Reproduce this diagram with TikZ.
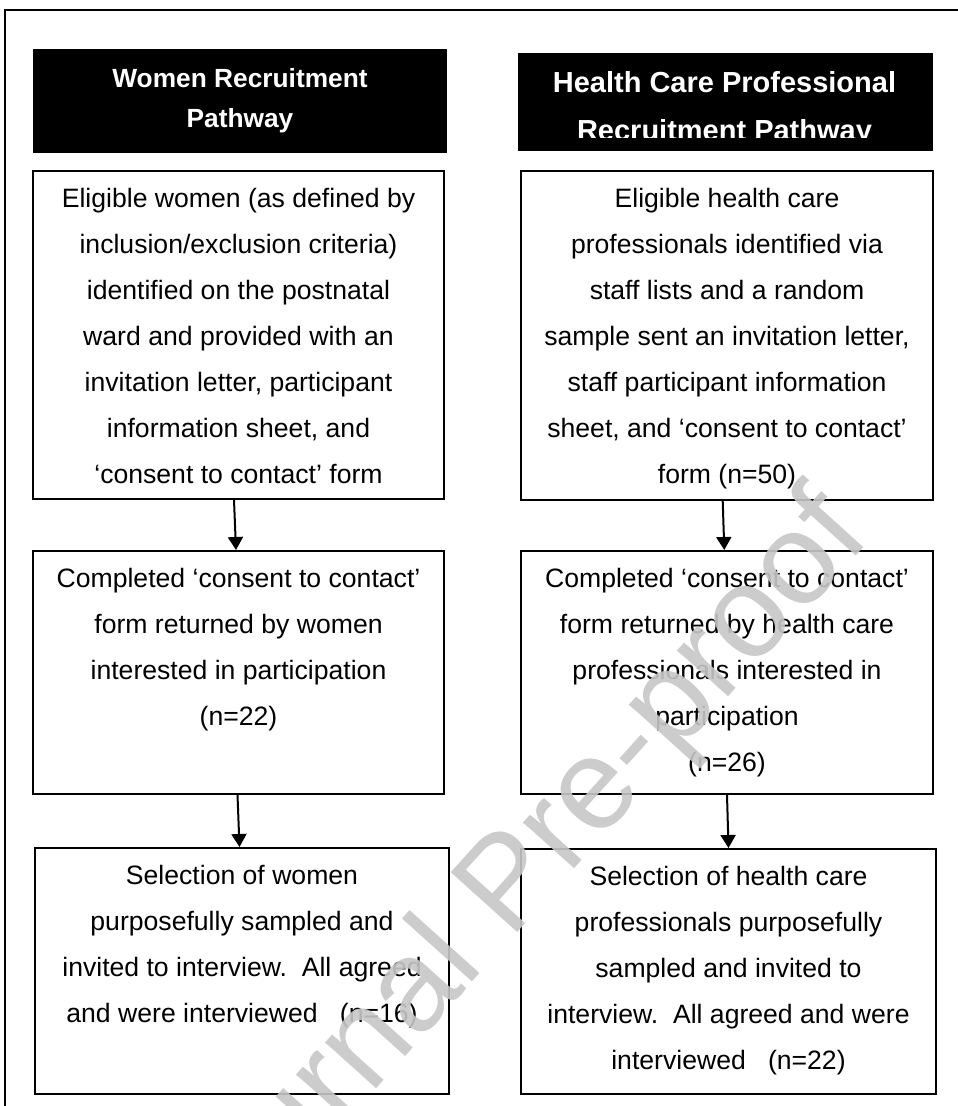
\documentclass[tikz,border=0pt]{standalone}
\usepackage{fontspec}
\setmainfont{Liberation Sans}
\usetikzlibrary{arrows.meta}
\begin{document}
\begin{tikzpicture}[x=0.5pt,y=-0.5pt,
  head/.style={fill=black,text=white,align=center,inner sep=0pt},
  stage/.style 2 args={draw,line width=1pt,inner sep=0pt,anchor=north,
    font=\fontsize{13.3pt}{23pt}\selectfont,
    execute at begin node={\begin{minipage}[c][#2][t]{#1}\centering\rule{0pt}{18.25pt}},
    execute at end node={\end{minipage}}},
  flow/.style={-{Triangle[width=7.5pt,length=6.5pt]},line width=1pt},
  stamp/.style={text=black!22,text opacity=0.9,font=\fontsize{65pt}{65pt}\selectfont,rotate=48}]
\useasboundingbox (0,0) rectangle (957,1106);
\draw[line width=1.25pt] (5,1106) -- (5,10) -- (960,10);
\node[head,minimum width=207pt,minimum height=52pt,font=\bfseries\fontsize{13.15pt}{20pt}\selectfont] (W0) at (240,101) {Women Recruitment\\Pathway};
\node[head,minimum width=207.5pt,minimum height=49pt] (H0) at (725.5,102) {};
\begin{scope}
\clip (518,53) rectangle (933,138);
\node[head,font=\bfseries\fontsize{14.5pt}{24pt}\selectfont] (H0t) at (724.5,108.6) {Health Care Professional\\Recruitment Pathway};
\end{scope}
\node[stage={205.5pt}{164pt}] (W1) at (238.5,170) {Eligible women (as defined by\\inclusion/exclusion criteria)\\identified on the postnatal\\ward and provided with an\\invitation letter, participant\\information sheet, and\\‘consent to contact’ form};
\node[stage={206pt}{164.5pt}] (H1) at (727,170) {Eligible health care\\professionals identified via\\staff lists and a random\\sample sent an invitation letter,\\staff participant information\\sheet, and ‘consent to contact’\\form (n=50)};
\node[stage={205.5pt}{121.5pt}] (W2) at (238.5,550) {Completed ‘consent to contact’\\form returned by women\\interested in participation\\(n=22)};
\node[stage={206pt}{121.5pt}] (H2) at (727,550) {Completed ‘consent to contact’\\form returned by health care\\professionals interested in\\participation\\(n=26)};
\node[stage={207pt}{123pt}] (W3) at (242,847) {Selection of women\\purposefully sampled and\\invited to interview.\ \ All agreed\\and were interviewed\ \ \ (n=16)};
\node[stage={207.5pt}{122.5pt}] (H3) at (728.5,848) {Selection of health care\\professionals purposefully\\sampled and invited to\\interview.\ \ All agreed and were\\interviewed\ \ \ (n=22)};
\path
  ([xshift=-2.25pt]W1.south) edge[flow] ([xshift=-1.25pt]W2.north)
  ([xshift=-0.5pt]W2.south) edge[flow] ([xshift=-1.25pt]W3.north)
  ([xshift=-2.15pt]H1.south) edge[flow] ([xshift=-1.35pt]H2.north)
  (H2.south) edge[flow] (H3.north)
;
\node[stamp] (wm) at (512,888) {Journal Pre-proof};
\end{tikzpicture}
\end{document}
